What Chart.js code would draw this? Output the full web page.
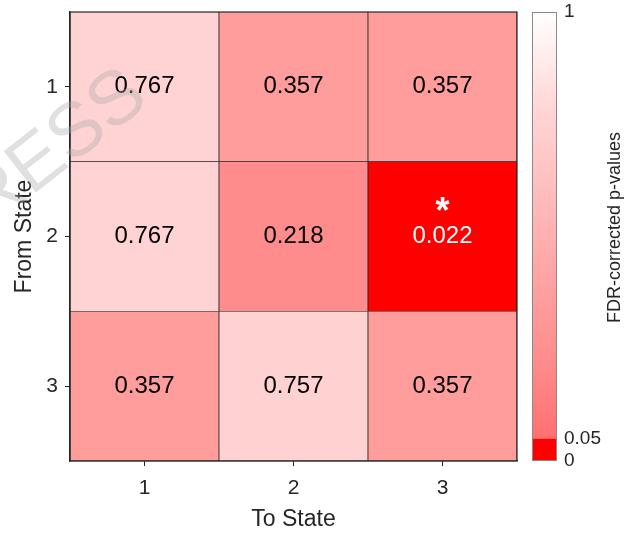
<!DOCTYPE html>
<html><head><meta charset="utf-8">
<script src="https://cdn.jsdelivr.net/npm/chart.js@4/dist/chart.umd.min.js"></script>
<style>html,body{margin:0;padding:0;background:#fff;}#wrap{width:638px;height:535px;position:relative;}</style>
</head><body><div id="wrap"><canvas id="c" width="638" height="535"></canvas></div>
<script>
// ---- data ----
const toStates = ['1', '2', '3'];
const fromStates = ['1', '2', '3'];
const pFrom1 = [0.767, 0.357, 0.357];
const pFrom2 = [0.767, 0.218, 0.022];
const pFrom3 = [0.357, 0.757, 0.357];
const alphaLevel = 0.05;
const colorbarTicks = [0, 0.05, 1];
const watermarkText = 'PRESS';

// ---- style ----
const FONT = "'Liberation Sans', Arial, Helvetica, sans-serif";
const INK = '#262626';
// colormap stops above alpha: [p, green/blue channel]
const cmapStops = [[0.05, 112], [0.218, 140], [0.357, 157], [0.767, 211], [1, 255]];
function chan(p) {
  if (p <= cmapStops[0][0]) return cmapStops[0][1];
  for (let i = 1; i < cmapStops.length; i++) {
    const [p1, c1] = cmapStops[i], [p0, c0] = cmapStops[i - 1];
    if (p <= p1) return c0 + (c1 - c0) * (p - p0) / (p1 - p0);
  }
  return 255;
}
function colorFor(p) {
  if (p < alphaLevel) return 'rgb(255,0,0)';
  const c = Math.round(chan(p));
  return `rgb(255,${c},${c})`;
}

const rows = [pFrom1, pFrom2, pFrom3];
const datasets = rows.map((r, i) => ({
  label: 'From ' + fromStates[i],
  data: r.map(() => 1),
  pValues: r,
  backgroundColor: r.map(colorFor),
  borderColor: '#222',
  borderWidth: 0.75,
  stack: 's',
  categoryPercentage: 1,
  barPercentage: 1,
  yAxisID: 'y'
}));

const cellLabels = {
  id: 'cellLabels',
  afterDatasetsDraw(chart) {
    const ctx = chart.ctx;
    const a = chart.chartArea;
    ctx.save();
    // frame
    ctx.strokeStyle = INK; ctx.lineWidth = 1.2;
    ctx.strokeRect(a.left, a.top, a.right - a.left, a.bottom - a.top);
    chart.data.datasets.forEach((ds, i) => {
      const meta = chart.getDatasetMeta(i);
      meta.data.forEach((el, j) => {
        const p = ds.pValues[j];
        const c = el.getCenterPoint();
        const sig = p < alphaLevel;
        ctx.fillStyle = sig ? '#ffffff' : '#000000';
        ctx.textAlign = 'center';
        ctx.textBaseline = 'middle';
        ctx.font = `24px ${FONT}`;
        ctx.fillText(p.toFixed(3), c.x, c.y);
        if (sig) {
          ctx.font = `bold 36px ${FONT}`;
          ctx.textBaseline = 'alphabetic';
          ctx.fillText('*', c.x, c.y - 14);
        }
      });
    });
    // colorbar
    const cb = chart.scales.cb;
    const x0 = a.right + 15, w = 25;
    const yTop = cb.getPixelForValue(1), yBot = cb.getPixelForValue(0), yA = cb.getPixelForValue(alphaLevel);
    const g = ctx.createLinearGradient(0, yA, 0, yTop);
    cmapStops.forEach(([p, c]) => {
      g.addColorStop((p - alphaLevel) / (1 - alphaLevel), `rgb(255,${c},${c})`);
    });
    ctx.fillStyle = g;
    ctx.fillRect(x0, yTop, w, yA - yTop);
    ctx.fillStyle = 'rgb(255,0,0)';
    ctx.fillRect(x0, yA, w, yBot - yA);
    ctx.strokeStyle = '#8a8a8a'; ctx.lineWidth = 1;
    ctx.strokeRect(x0 + 0.5, yTop + 0.5, w - 1, yBot - yTop - 1);
    // colorbar title
    ctx.save();
    ctx.translate(615, (yTop + yBot) / 2 - 9);
    ctx.rotate(-Math.PI / 2);
    ctx.fillStyle = INK;
    ctx.font = `18px ${FONT}`;
    ctx.textAlign = 'center'; ctx.textBaseline = 'middle';
    ctx.fillText('FDR-corrected p-values', 0, 0);
    ctx.restore();
    // watermark
    ctx.save();
    ctx.translate(138, 86);
    ctx.rotate(-38 * Math.PI / 180);
    ctx.font = `76px ${FONT}`;
    ctx.fillStyle = 'rgba(170,170,170,0.36)';
    ctx.textAlign = 'right'; ctx.textBaseline = 'middle';
    ctx.fillText(watermarkText, 0, 0);
    ctx.restore();
    ctx.restore();
  }
};

function noPadV(s) { s.paddingTop = 0; s.paddingBottom = 0; }
function noPadH(s) { s.paddingLeft = 0; s.paddingRight = 0; }

new Chart(document.getElementById('c'), {
  type: 'bar',
  data: { labels: toStates, datasets },
  options: {
    responsive: false,
    animation: false,
    devicePixelRatio: 1,
    layout: { padding: { top: 12, left: 0, right: 0, bottom: 0 } },
    plugins: { legend: { display: false }, tooltip: { enabled: false } },
    scales: {
      x: {
        type: 'category',
        stacked: true,
        offset: true,
        grid: { display: true, offset: false, drawOnChartArea: false, drawTicks: true, tickLength: 5, color: INK, lineWidth: 1 },
        border: { display: true, color: INK, width: 1.2 },
        ticks: { color: INK, font: { family: FONT, size: 21 }, padding: 10 },
        title: { display: true, text: 'To State', color: INK, font: { family: FONT, size: 23 }, padding: { top: 0, bottom: 2 } },
        afterFit: s => { s.height = 74; noPadH(s); }
      },
      y: {
        type: 'linear',
        stacked: true,
        reverse: true,
        min: 0, max: 3,
        afterBuildTicks: s => { s.ticks = [0.5, 1.5, 2.5].map(v => ({ value: v })); },
        grid: { display: true, drawOnChartArea: false, drawTicks: true, tickLength: 5, color: INK, lineWidth: 1 },
        border: { display: true, color: INK, width: 1.2 },
        ticks: { color: INK, font: { family: FONT, size: 21 }, padding: 7, callback: (v, i) => fromStates[i] },
        title: { display: true, text: 'From State', color: INK, font: { family: FONT, size: 23 }, padding: { top: 11, bottom: 0 } },
        afterFit: s => { s.width = 70; noPadV(s); }
      },
      cb: {
        type: 'linear',
        position: 'right',
        min: 0, max: 1,
        afterBuildTicks: s => { s.ticks = colorbarTicks.map(v => ({ value: v })); },
        grid: { display: false, drawTicks: false },
        border: { display: false },
        ticks: { color: INK, font: { family: FONT, size: 19 }, padding: 47, autoSkip: false, callback: (v, i) => String(colorbarTicks[i]) },
        afterFit: s => { s.width = 121; noPadV(s); }
      }
    }
  },
  plugins: [cellLabels]
});
</script>
</body></html>
